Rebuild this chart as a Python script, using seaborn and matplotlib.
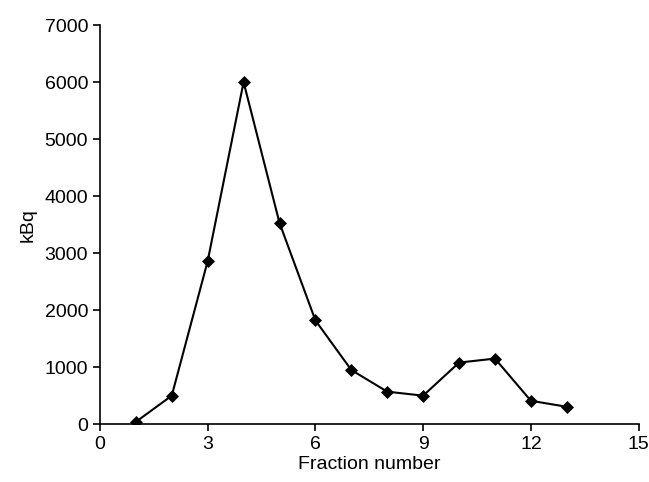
import numpy as np
import pandas as pd
import matplotlib
matplotlib.use("Agg")
import matplotlib.pyplot as plt
import seaborn as sns

# values
fraction = [1, 2, 3, 4, 5, 6, 7, 8, 9, 10, 11, 12, 13]
kbq = [40, 500, 2860, 6000, 3530, 1820, 950, 570, 500, 1080, 1150, 410, 305]
x_ticks = [0, 3, 6, 9, 12, 15]
y_ticks = [0, 1000, 2000, 3000, 4000, 5000, 6000, 7000]

df = pd.DataFrame({"Fraction number": fraction, "kBq": kbq})

sns.set_style("ticks")
plt.rcParams["font.family"] = ["Liberation Sans", "DejaVu Sans"]

fig = plt.figure(figsize=(6.49, 4.82), dpi=100)
ax = fig.add_axes([0.154, 0.120, 0.830, 0.828])
sns.lineplot(data=df, x="Fraction number", y="kBq", color="black",
             marker="D", markersize=6, markeredgecolor="black",
             markeredgewidth=0.5, linewidth=1.5, ax=ax)

ax.set_xlim(0, 15)
ax.set_ylim(0, 7000)
ax.set_xticks(x_ticks)
ax.set_yticks(y_ticks)
ax.tick_params(labelsize=14, length=5, width=1.2, color="black", labelcolor="black")
ax.set_xlabel("Fraction number", fontsize=14, color="black", labelpad=2)
ax.set_ylabel("kBq", fontsize=14, color="black", labelpad=6)
sns.despine(ax=ax)
for s in ["left", "bottom"]:
    ax.spines[s].set_color("black")
    ax.spines[s].set_linewidth(1.2)

fig.savefig("out.png", dpi=100)
